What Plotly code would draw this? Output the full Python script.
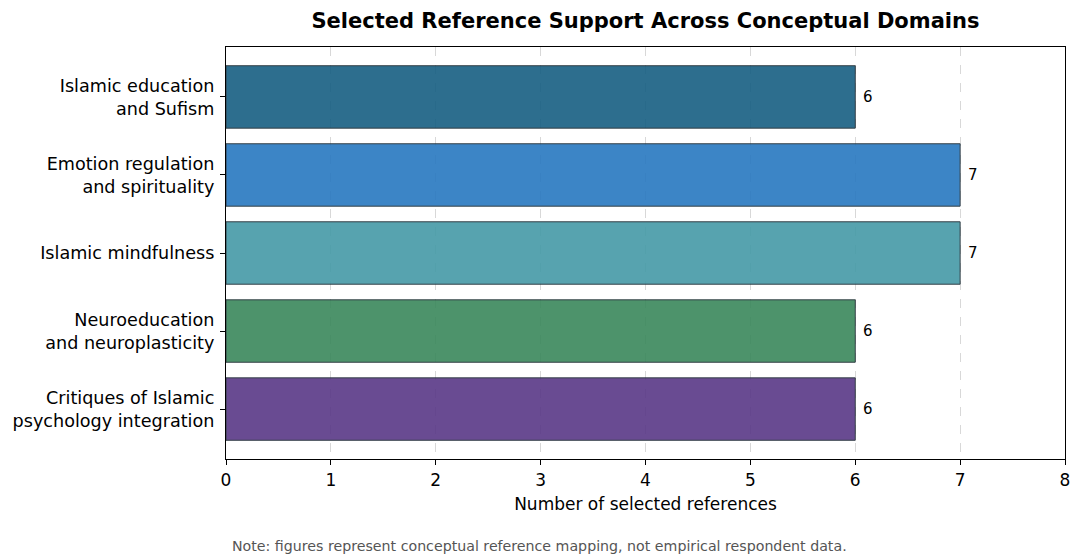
import plotly.graph_objects as go

categories = ["Islamic education<br>and Sufism", "Emotion regulation<br>and spirituality",
              "Islamic mindfulness", "Neuroeducation<br>and neuroplasticity",
              "Critiques of Islamic<br>psychology integration"]
values = [6, 7, 7, 6, 6]
colors = ["#175F82", "#2878C0", "#459AA7", "#3A885B", "#593887"]
x_ticks = [0, 1, 2, 3, 4, 5, 6, 7, 8]

fig = go.Figure()
fig.add_trace(go.Bar(
    y=categories, x=values, orientation="h",
    marker=dict(color=colors, line=dict(color="#1f2b33", width=1), opacity=0.9),
    width=0.8,
))

for c, v in zip(categories, values):
    fig.add_annotation(x=v, y=c, text=str(v), showarrow=False, xanchor="left",
                       xshift=6, font=dict(family="DejaVu Sans", size=15, color="black"))

fig.update_layout(
    width=1074, height=554,
    paper_bgcolor="white", plot_bgcolor="white",
    margin=dict(l=226, r=9, t=47, b=95),
    font=dict(family="DejaVu Sans", size=17, color="black"),
    title=dict(text="<b>Selected Reference Support Across Conceptual Domains</b>",
               x=0.5, xref="paper", xanchor="center", y=0.963, yanchor="middle",
               font=dict(family="DejaVu Sans", size=21, color="black")),
    showlegend=False,
)
fig.update_xaxes(
    range=[0, 8], tickvals=x_ticks, ticks="outside", ticklen=5, tickcolor="black",
    showline=True, linecolor="black", linewidth=1.2, mirror=True,
    showgrid=True, gridcolor="rgba(200,200,200,0.7)", griddash="dash", gridwidth=1,
    zeroline=False, automargin=False,
    title=dict(text="Number of selected references", font=dict(size=17), standoff=9),
    tickfont=dict(size=17),
)
fig.update_yaxes(
    autorange=False, range=[4.64, -0.64],
    ticks="outside", ticklen=5, tickcolor="black",
    showline=True, linecolor="black", linewidth=1.2, mirror=True,
    showgrid=False, tickfont=dict(size=17.6), automargin=False,
    ticklabelstandoff=2,
)

fig.add_annotation(
    text="Note: figures represent conceptual reference mapping, not empirical respondent data.",
    xref="paper", yref="paper", x=0.374, y=-0.21, xanchor="center", yanchor="middle",
    showarrow=False, font=dict(family="DejaVu Sans", size=14.2, color="#555555"),
)

fig.write_html("out.html")
